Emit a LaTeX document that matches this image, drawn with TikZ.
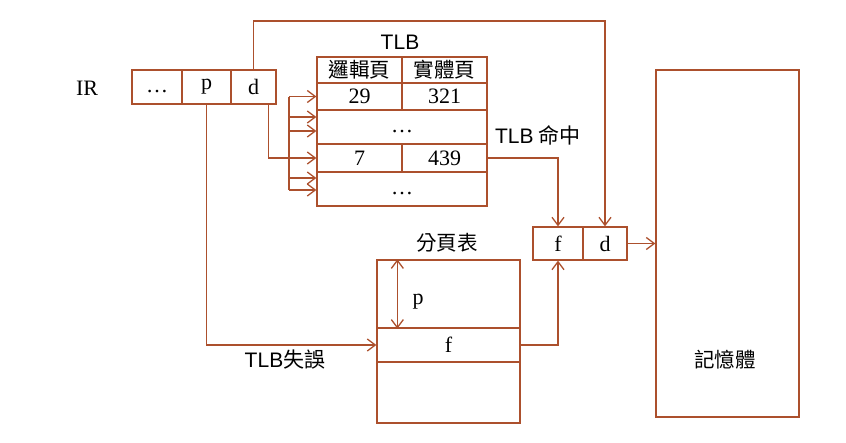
\documentclass[tikz,border=0pt]{standalone}
\usepackage{fontspec}
\setmainfont{Liberation Serif}
\setsansfont{Liberation Sans}
\newfontfamily\cjk{Noto Sans CJK TC}
\usetikzlibrary{arrows.meta}
\definecolor{rust}{RGB}{172,80,45}

\begin{document}
\begin{tikzpicture}[x=1pt,y=-1pt,line width=1.3pt,
  every node/.style={font=\fontsize{22}{26}\selectfont},
  box/.style={draw=rust,inner sep=0pt,minimum width=#1},
  box/.default=85pt,
  hanzi/.style={font=\cjk\fontsize{20.5}{24}\selectfont},
  >={Straight Barb[length=8pt,width=12pt]},
  link/.style={draw=rust,->}]
    \useasboundingbox (0,0) rectangle (846,442);
    % Register
    \node (ir) at (87,88) {IR};
    \node[box=50pt,minimum height=34pt] (ir1) at (157,87) {\strut\dots};
    \node[box=49pt,minimum height=34pt] (ir2) at (206.5,87) {p};
    \node[box=45pt,minimum height=34pt] (ir3) at (253.5,87) {d};
    % TLB
    \node[font=\sffamily\fontsize{21}{25}\selectfont] (tlb) at (400,42) {TLB};
    \node[box,hanzi,minimum height=26pt] (h1) at (359.5,70) {邏輯頁};
    \node[box,hanzi,minimum height=26pt] (h2) at (444.5,70) {實體頁};
    \node[box,minimum height=27pt] (r1a) at (359.5,96.5) {29};
    \node[box,minimum height=27pt] (r1b) at (444.5,96.5) {321};
    \node[box=170pt,minimum height=34pt] (r2) at (402,127) {\strut\dots};
    \node[box,minimum height=28pt] (r3a) at (359.5,158) {7};
    \node[box,minimum height=28pt] (r3b) at (444.5,158) {439};
    \node[box=170pt,minimum height=34pt] (r4) at (402,189) {\strut\dots};
    % Page table
    \node[hanzi] (pttitle) at (447,243) {分頁表};
    \node[box=143pt,minimum height=68pt] (pt1) at (448.5,294) {};
    \node[box=143pt,minimum height=34pt] (pt2) at (448.5,345) {f};
    \node[box=143pt,minimum height=61pt] (pt3) at (448.5,392.5) {};
    \node (pp) at (418,302) {p};
    \draw[<->,rust] ([xshift=21pt]pt1.north west) -- ([xshift=21pt]pt1.south west);
    % Physical address and memory
    \node[box=50pt,minimum height=33pt] (fcell) at (558,243.5) {f};
    \node[box=44pt,minimum height=33pt] (dcell) at (605,243.5) {d};
    \node[box=143pt,minimum height=347pt] (mem) at (727.5,243.5) {};
    \node[hanzi] (memlbl) at (725,360) {記憶體};
    % Connectors
    \coordinate (top) at (430,21);
    \coordinate (bus) at (289,0);
    \draw[link] (ir3.north) |- (top) -| (dcell.north);
    \draw[link] ([xshift=15pt]ir3.south) |- (r3a.west);
    \draw[rust] (r1a.west -| bus) -- ([yshift=-1pt]r4.west -| bus);
    \foreach \row/\dy in {r1a/0,r2/10,r2/-4,r4/11,r4/-1}
      \draw[link] ([yshift=\dy pt]\row.west -| bus) -- ([yshift=\dy pt]\row.west);
    \draw[link] (r3b.east) -| (fcell.north);
    \draw[link] (pt2.east) -| (fcell.south);
    \draw[link] (ir2.south) |- (pt2.west);
    \draw[link] (dcell.east) -- (mem.west);
    \node[font=\fontsize{21}{25}\selectfont] (hit) at (538,135) {\textsf{TLB} {\cjk 命中}};
    \node[font=\fontsize{21}{25}\selectfont] (miss) at (285,360) {\textsf{TLB}{\cjk 失誤}};
\end{tikzpicture}
\end{document}
